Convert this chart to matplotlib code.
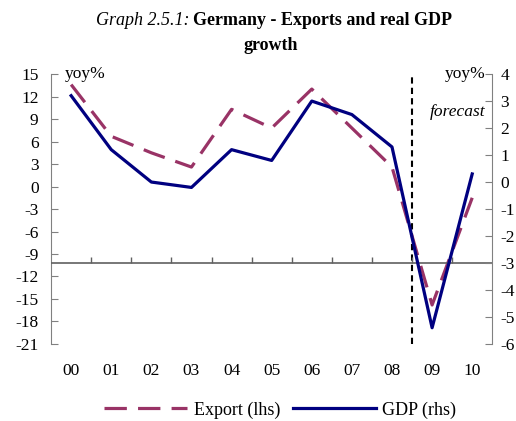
import matplotlib
matplotlib.use("Agg")
import matplotlib.pyplot as plt

# data
years = ["00", "01", "02", "03", "04", "05", "06", "07", "08", "09", "10"]
export_lhs = [13.6, 6.7, 4.5, 2.6, 10.3, 7.8, 13.0, 7.8, 2.6, -15.8, -1.5]
gdp_rhs = [3.2, 1.2, 0.0, -0.2, 1.2, 0.8, 3.0, 2.5, 1.3, -5.4, 0.3]
left_ticks = list(range(15, -22, -3))
right_ticks = list(range(4, -7, -1))

plt.rcParams['font.family'] = ['Liberation Serif', 'DejaVu Serif']
plt.rcParams['axes.unicode_minus'] = False
fs = 12.5
axis_col = "#808080"

fig = plt.figure(figsize=(5.16, 4.21), dpi=100)
ax = fig.add_axes([0.099, 0.183, 0.855, 0.641])
ax2 = ax.twinx()

x = list(range(len(years)))
ax.plot(x, export_lhs, color="#993366", lw=2.3, dashes=(7, 3.5), label="Export (lhs)")
ax2.plot(x, gdp_rhs, color="#000080", lw=2.3, label="GDP (rhs)")

ax.set_xlim(-0.5, len(years) - 0.5)
ax.set_ylim(-21, 15)
ax2.set_ylim(-6, 4)
ax.set_yticks(left_ticks)
ax2.set_yticks(right_ticks)

# crossing line at -3 on the rhs with small category ticks
ax2.axhline(-3, color="#606060", lw=1.2, zorder=1)
sec = ax2.secondary_xaxis(0.3)
sec.set_xticks([i + 0.5 for i in x[:-1]])
sec.tick_params(direction="in", length=4, width=1, color="#606060", labelbottom=False)
sec.spines['bottom'].set_visible(False)

# forecast separator
ax.axvline(8.5, color="black", lw=1.5, dashes=(3, 2))

for a in (ax, ax2):
    a.spines['top'].set_visible(False)
    a.spines['bottom'].set_visible(False)
    a.spines['left'].set_color(axis_col)
    a.spines['right'].set_color(axis_col)
    a.tick_params(axis='y', direction="in", length=5, color=axis_col, labelsize=fs)
ax.tick_params(axis='y', pad=9)
ax2.tick_params(axis='y', pad=6)
ax2.spines['left'].set_visible(False)
ax.spines['right'].set_visible(False)

ax.set_xticks(x)
ax.set_xticklabels(years, fontsize=fs)
ax.tick_params(axis='x', length=0, pad=14)

ax.text(0.03, 1.0, "yoy%", transform=ax.transAxes, fontsize=fs, ha="left", va="center")
ax.text(0.985, 1.0, "yoy%", transform=ax.transAxes, fontsize=fs, ha="right", va="center")
ax.text(0.985, 0.86, "forecast", transform=ax.transAxes, fontsize=fs, ha="right",
        va="center", style="italic")

# title: italic prefix + bold rest on the first line
t_bold = fig.text(0.625, 0.952, "Germany - Exports and real GDP", fontsize=13, weight="bold",
                  ha="center", va="center")
fig.canvas.draw()
bb = t_bold.get_window_extent().transformed(fig.transFigure.inverted())
fig.text(bb.x0 - 0.006, 0.952, "Graph 2.5.1:", fontsize=13, style="italic", ha="right", va="center")
fig.text(0.525, 0.893, "growth", fontsize=13, weight="bold", ha="center", va="center")

h1, l1 = ax.get_legend_handles_labels()
h2, l2 = ax2.get_legend_handles_labels()
fig.legend(h1 + h2, l1 + l2, loc="center", bbox_to_anchor=(0.543, 0.026), ncol=2,
           frameon=False, prop={'size': 13}, handlelength=4.6, columnspacing=0.7,
           handletextpad=0.35)

fig.savefig("out.png", dpi=100)
